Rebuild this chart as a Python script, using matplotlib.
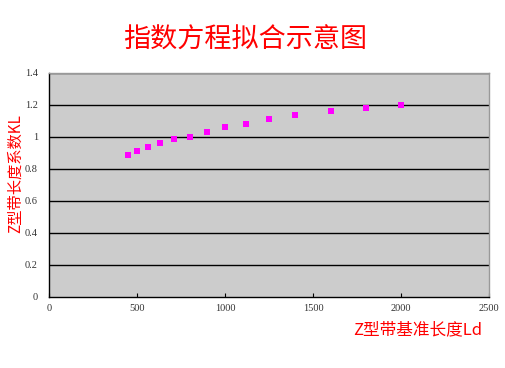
import matplotlib
matplotlib.use("Agg")
import matplotlib.pyplot as plt

plt.rcParams['font.family'] = ['Noto Sans CJK SC', 'DejaVu Sans']

# data
belt_len = [450, 500, 560, 630, 710, 800, 900, 1000, 1120, 1250, 1400, 1600, 1800, 2000]
kl = [0.89, 0.91, 0.94, 0.96, 0.99, 1.00, 1.03, 1.06, 1.08, 1.11, 1.14, 1.16, 1.18, 1.20]
x_ticks = [0, 500, 1000, 1500, 2000, 2500]
y_ticks = [0, 0.2, 0.4, 0.6, 0.8, 1.0, 1.2, 1.4]
y_tick_labels = ["0", "0.2", "0.4", "0.6", "0.8", "1", "1.2", "1.4"]

fig = plt.figure(figsize=(5.06, 3.68), dpi=100)
ax = fig.add_axes([49/506, 71/368, 440/506, 224/368])
ax.set_facecolor("#cccccc")

for y in y_ticks[1:]:
    ax.axhline(y, color="black", lw=1.0, zorder=1)

ax.scatter(belt_len, kl, marker="s", s=17, color="#ff00ff", zorder=3, linewidths=0)

ax.set_xlim(0, 2500)
ax.set_ylim(0, 1.4)
ax.set_xticks(x_ticks)
ax.set_xticklabels([str(v) for v in x_ticks], family="Liberation Serif", fontsize=7.5, color="#333333")
ax.set_yticks(y_ticks)
ax.set_yticklabels(y_tick_labels, family="Liberation Serif", fontsize=7.5, color="#333333")
ax.tick_params(axis="x", direction="in", length=3, width=0.8, pad=5)
ax.tick_params(axis="y", length=0, pad=8)

for s in ["top", "right"]:
    ax.spines[s].set_color("#999999")
    ax.spines[s].set_linewidth(1.0)
for s in ["left", "bottom"]:
    ax.spines[s].set_color("black")
    ax.spines[s].set_linewidth(1.0)

fig.text(245/506, 1 - 40/368, "指数方程拟合示意图", color="red", fontsize=19.5,
         ha="center", va="center")
fig.text(15/506, 1 - 174/368, "Z型带长度系数KL", color="red", fontsize=11,
         rotation=90, ha="center", va="center")
fig.text(418/506, 1 - 330/368, "Z型带基准长度Ld", color="red", fontsize=12,
         ha="center", va="center")

fig.savefig("out.png", dpi=100)
